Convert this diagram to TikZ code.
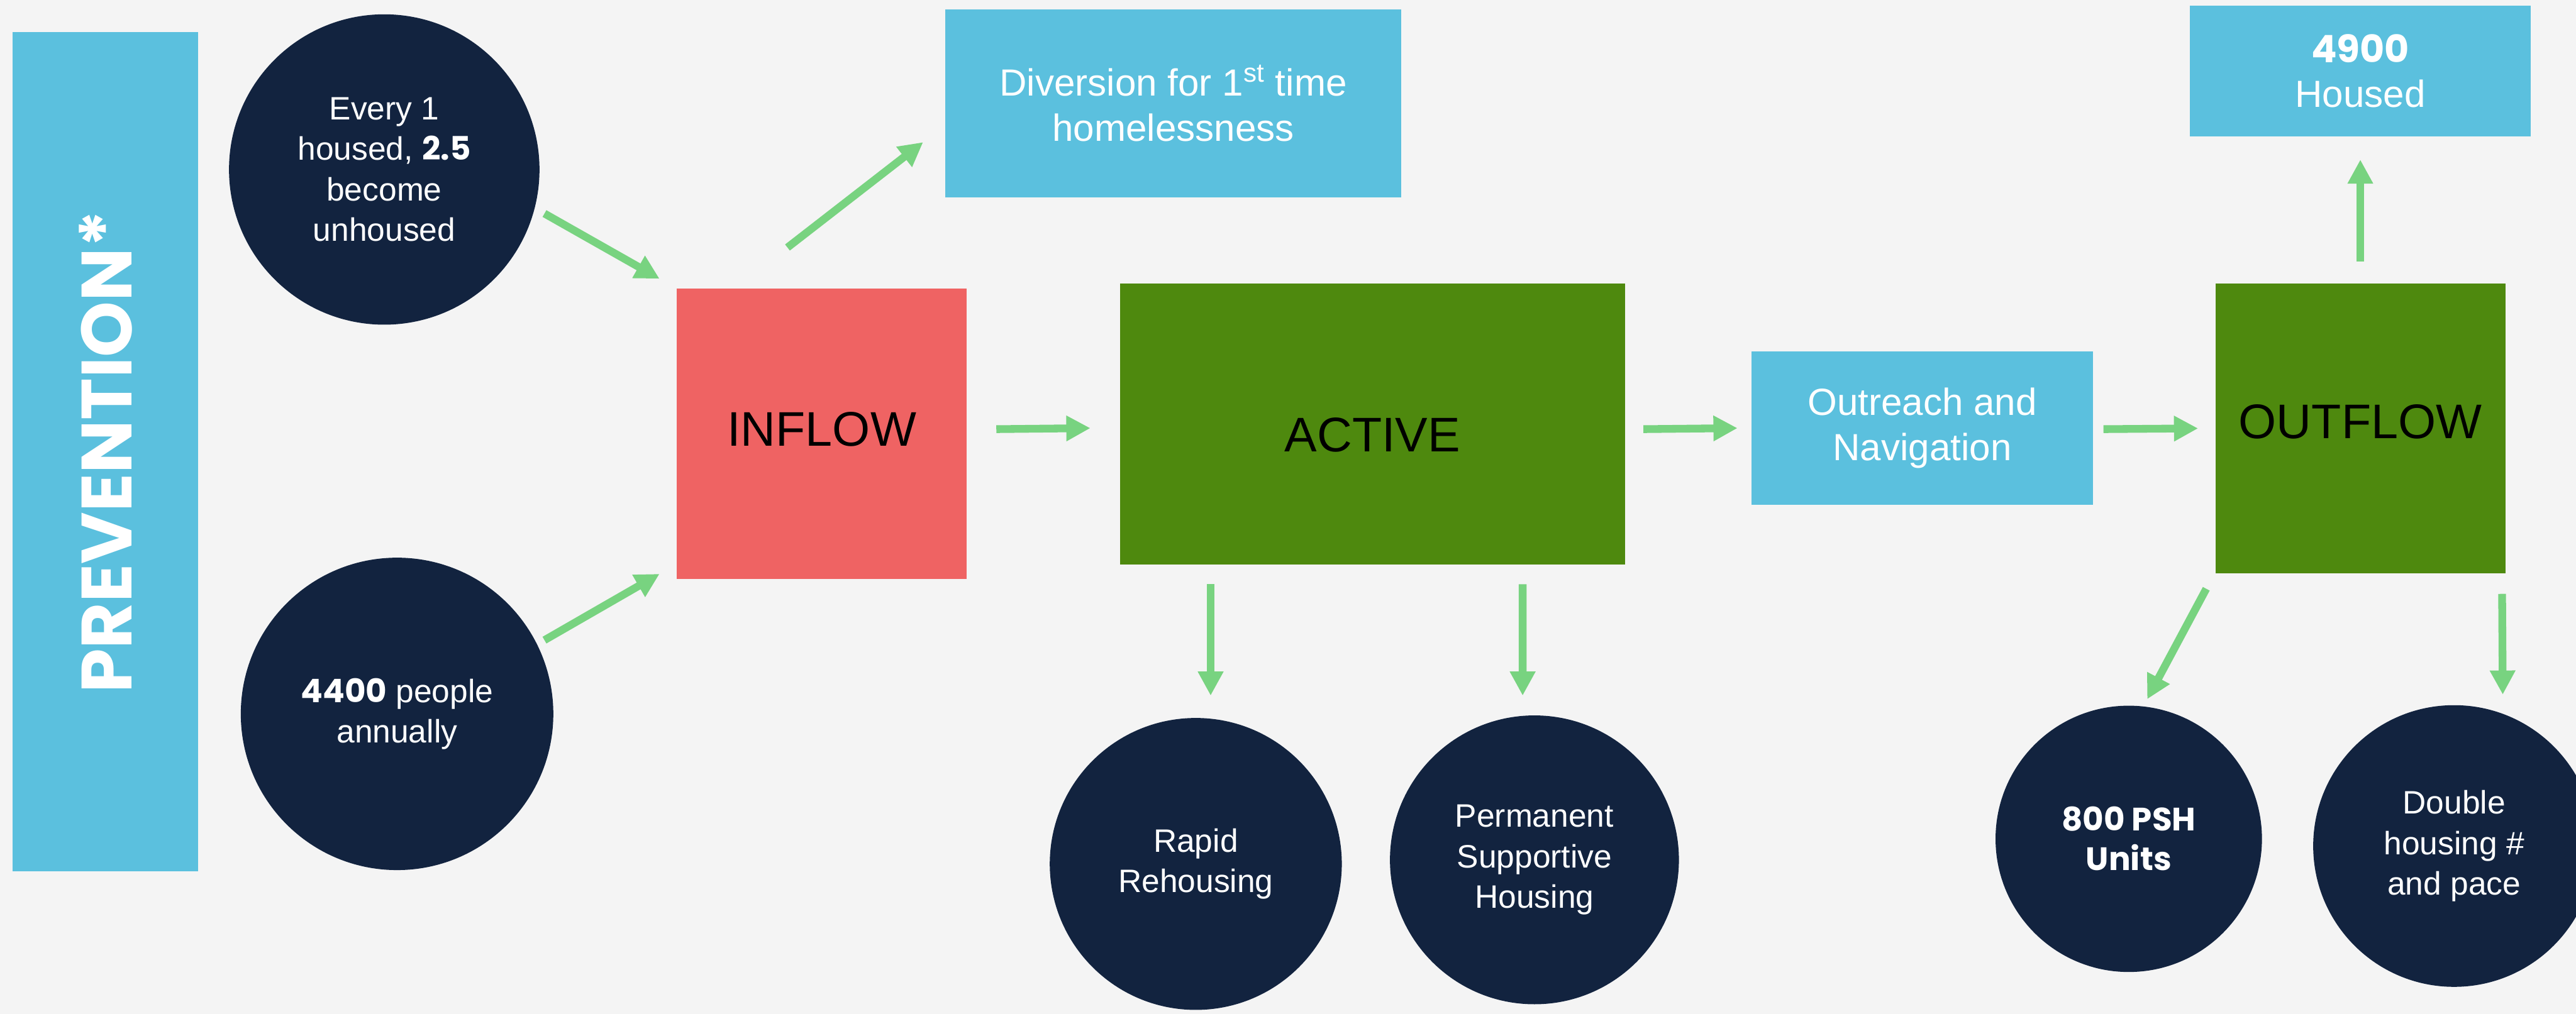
\documentclass[tikz,border=0pt]{standalone}
\usepackage{fontspec}
\setmainfont{Liberation Sans}
\newfontfamily\popfont{Poppins}
\usetikzlibrary{arrows.meta}
\definecolor{navy}{HTML}{12233F}
\definecolor{sky}{HTML}{5BC0DE}
\definecolor{coral}{HTML}{EF6363}
\definecolor{leaf}{HTML}{4E890E}
\definecolor{mint}{HTML}{78D380}
\definecolor{paper}{HTML}{F4F4F4}

\begin{document}
\begin{tikzpicture}[
    circ/.style={circle,fill=navy,text=white,inner sep=0pt,align=center,font=\fontsize{18}{22.5}\selectfont},
    box/.style={fill=sky,text=white,inner sep=0pt,align=center,font=\fontsize{21}{25}\selectfont},
    stage/.style={inner sep=0pt,text=black,font=\fontsize{27}{32}\selectfont},
    flow/.style={draw=mint,line width=4.3pt,-{Triangle[length=.47cm,width=.47cm]}}]
  \useasboundingbox (0,0) rectangle (50.28,19.80);
  \fill[paper] (0,0) rectangle (50.28,19.80);
  \node[fill=sky,rotate=90,minimum width=16.38cm,minimum height=3.62cm,text=white,font=\popfont\bfseries\fontsize{39.5}{42}\selectfont] (prev) at (2.06,10.98) {PREVENTION*};
  \node[circ,minimum size=6.06cm] (every) at (7.50,16.49) {Every 1\\housed, {\popfont\bfseries 2.5}\\become\\unhoused};
  \node[circ,minimum size=6.10cm] (annual) at (7.75,5.86) {{\popfont\bfseries 4400} people\\annually};
  \node[stage,fill=coral,minimum width=5.66cm,minimum height=5.66cm] (inflow) at (16.04,11.33) {\raisebox{-.24cm}[0pt][0pt]{INFLOW}};
  \node[box,minimum width=8.91cm,minimum height=3.67cm] (divert) at (22.90,17.785) {Diversion for 1\textsuperscript{st} time\\homelessness};
  \node[stage,fill=leaf,minimum width=9.86cm,minimum height=5.48cm] (active) at (26.79,11.52) {\raisebox{-.54cm}[0pt][0pt]{ACTIVE}};
  \node[box,minimum width=6.66cm,minimum height=3.00cm] (outreach) at (37.52,11.44) {Outreach and\\Navigation};
  \node[stage,fill=leaf,minimum width=5.66cm,minimum height=5.65cm] (outflow) at (46.07,11.435) {\raisebox{-.20cm}[0pt][0pt]{OUTFLOW}};
  \node[box,minimum width=6.66cm,minimum height=2.55cm] (housed) at (46.07,18.415) {{\popfont\bfseries 4900}\\Housed};
  \node[circ,minimum size=5.70cm] (rapid) at (23.34,2.93) {Rapid\\Rehousing};
  \node[circ,minimum size=5.64cm] (psh) at (29.95,3.01) {Permanent\\Supportive\\Housing};
  \node[circ,minimum size=5.20cm,font=\popfont\bfseries\fontsize{18}{22}\selectfont] (units) at (41.55,3.42) {800 PSH\\Units};
  \node[circ,minimum size=5.50cm] (double) at (47.90,3.28) {Double\\housing \#\\and pace};
  % arrows
  \draw[flow] ([shift={(.09,-.86)}]every.east) -- ([shift={(-.33,.19)}]inflow.north west);
  \draw[flow] ([shift={(-.18,1.44)}]annual.east) -- ([shift={(-.33,.10)}]inflow.south west);
  \draw[flow] ([shift={(-.67,.80)}]inflow.north) -- ([shift={(-.42,1.08)}]divert.south west);
  \draw[flow] ([shift={(.57,.09)}]inflow.east) -- ([shift={(-.57,-.08)}]active.west);
  \draw[flow] ([shift={(.35,-.10)}]active.east) -- ([shift={(-.27,0)}]outreach.west);
  \draw[flow] ([shift={(.20,-.02)}]outreach.east) -- ([shift={(-.33,0)}]outflow.west);
  \draw[flow] ([shift={(0,.43)}]outflow.north) -- ([shift={(0,-.45)}]housed.south);
  \draw[flow] ([shift={(-3.16,-.38)}]active.south) -- ([shift={(.29,.43)}]rapid.north);
  \draw[flow] ([shift={(2.93,-.38)}]active.south) -- ([shift={(-.23,.38)}]psh.north);
  \draw[flow] ([shift={(-.17,-.30)}]outflow.south west) -- ([shift={(.36,.12)}]units.north);
  \draw[flow] ([shift={(-.07,-.40)}]outflow.south east) -- ([shift={(.95,.20)}]double.north);
\end{tikzpicture}
\end{document}
